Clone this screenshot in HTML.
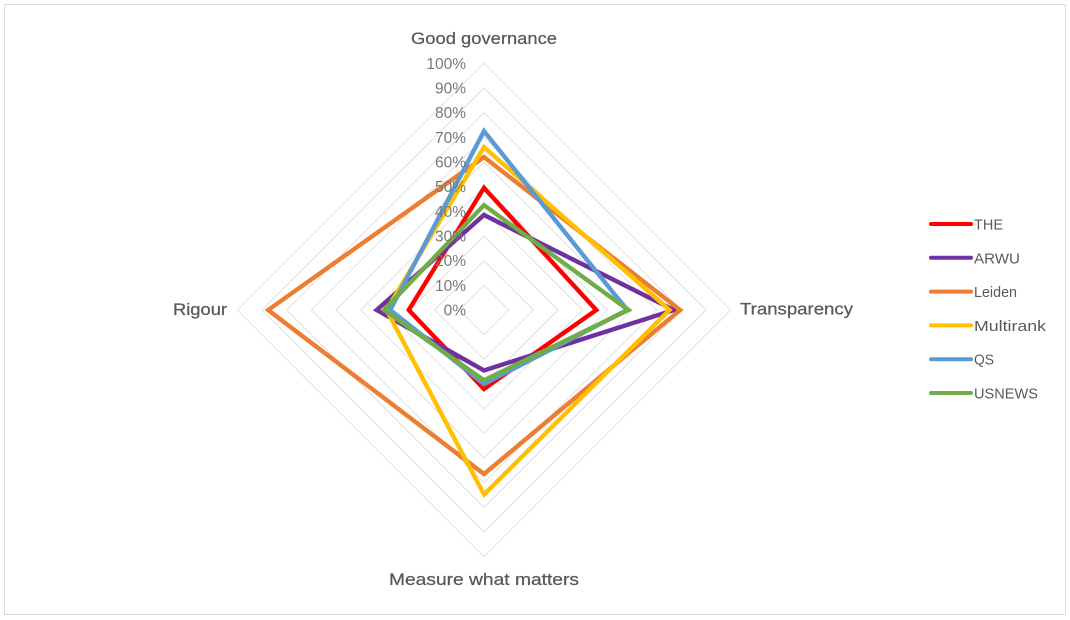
<!DOCTYPE html>
<html lang="en">
<head>
<meta charset="utf-8">
<title>Radar chart of university rankings</title>
<style>
html,body{margin:0;padding:0;background:#fff;width:1070px;height:620px;overflow:hidden}
svg{display:block}
text{font-family:"Liberation Sans",sans-serif}
</style>
</head>
<body>
<svg id="chart" xmlns="http://www.w3.org/2000/svg" width="1070" height="620" viewBox="0 0 1070 620">
<rect x="0" y="0" width="1070" height="620" fill="#ffffff"/>
<rect x="4.5" y="4.5" width="1061" height="610" fill="none" stroke="#dcdcdc" stroke-width="1"/>
</svg>
<script>
const categories = ["Good governance", "Transparency", "Measure what matters", "Rigour"];
const tickLabels = ["0%", "10%", "20%", "30%", "40%", "50%", "60%", "70%", "80%", "90%", "100%"];
const tickValues = [0, 0.1, 0.2, 0.3, 0.4, 0.5, 0.6, 0.7, 0.8, 0.9, 1];
const seriesNames = ["THE", "ARWU", "Leiden", "Multirank", "QS", "USNEWS"];
const seriesColors = ["#ff0000", "#7030a0", "#ed7d31", "#ffc000", "#5b9bd5", "#70ad47"];
const theValues = [0.495, 0.455, 0.32, 0.305];
const arwuValues = [0.385, 0.77, 0.245, 0.435];
const leidenValues = [0.62, 0.795, 0.665, 0.875];
const multirankValues = [0.66, 0.752, 0.748, 0.395];
const qsValues = [0.725, 0.58, 0.30, 0.38];
const usnewsValues = [0.425, 0.585, 0.285, 0.405];
const seriesValues = [theValues, arwuValues, leidenValues, multirankValues, qsValues, usnewsValues];

const NS = "http://www.w3.org/2000/svg";
const svg = document.getElementById("chart");
const cx = 484, cy = 310, radius = 246.7;

function radial(value) {
  return value * radius;
}
function pointFor(axisIndex, value) {
  const angle = axisIndex * Math.PI / 2;
  const r = radial(value);
  return [cx + r * Math.sin(angle), cy - r * Math.cos(angle)];
}
function polygonPoints(values) {
  return values.map(function (v, i) {
    const p = pointFor(i, v);
    return p[0].toFixed(2) + "," + p[1].toFixed(2);
  }).join(" ");
}
function make(tag, attrs, text) {
  const el = document.createElementNS(NS, tag);
  Object.keys(attrs).forEach(function (k) { el.setAttribute(k, attrs[k]); });
  if (text !== undefined) el.textContent = text;
  svg.appendChild(el);
  return el;
}

// Gridlines
tickValues.forEach(function (t) {
  if (t === 0) return;
  const el = make("polygon", {
    points: polygonPoints(categories.map(function () { return t; })),
    fill: "none", stroke: "#e0e0e0", "stroke-width": "1"
  });
  
  
});

// Series
seriesValues.forEach(function (values, i) {
  const el = make("polygon", {
    points: polygonPoints(values),
    fill: "none", stroke: seriesColors[i], "stroke-width": "4.4",
    "stroke-linejoin": "miter", "stroke-miterlimit": "10"
  });
  
  
});

// Tick labels
tickLabels.forEach(function (label, i) {
  const el = make("text", {
    x: 466, y: cy - radial(tickValues[i]) + 5.5,
    "text-anchor": "end", "font-size": "15.5", fill: "#787878"
  }, label);
  
  
});

// Category labels
const catX = [484, 796.5, 484, 200];
const catY = [44, 314.5, 585, 315];
const catW = [146, 113, 190, 54];
categories.forEach(function (label, i) {
  const el = make("text", {
    x: catX[i], y: catY[i], "text-anchor": "middle",
    "font-size": "16.5", fill: "#595959", stroke: "#595959", "stroke-width": "0.25",
    textLength: catW[i], lengthAdjust: "spacingAndGlyphs"
  }, label);
  
  
});

// Legend
const legendTop = 224, legendStep = 33.8;
const legendW = [29, 46, 43, 72, 20, 64];
seriesNames.forEach(function (name, i) {
  const y = legendTop + i * legendStep;
  const line = make("line", {
    x1: 931, x2: 971, y1: y, y2: y,
    stroke: seriesColors[i], "stroke-width": "4", "stroke-linecap": "round"
  });
  
  
  const text = make("text", {
    x: 974, y: y + 5.5, "font-size": "14.5", fill: "#595959",
    textLength: legendW[i], lengthAdjust: "spacingAndGlyphs"
  }, name);
  
  
});
</script>
</body>
</html>
